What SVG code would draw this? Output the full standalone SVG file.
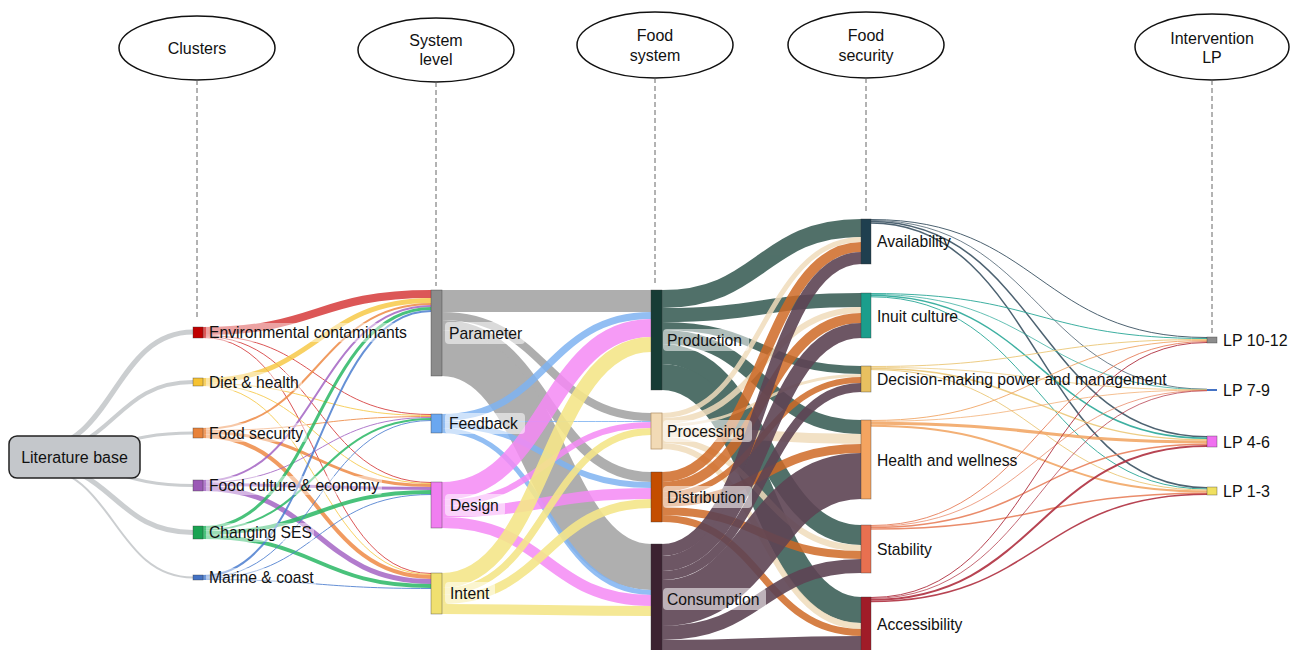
<svg xmlns="http://www.w3.org/2000/svg" width="1298" height="650" viewBox="0 0 1298 650">
<style>
text{font-family:"Liberation Sans",Arial,sans-serif;fill:#111;}
.hdr{font-size:16px;text-anchor:middle;dominant-baseline:central;}
.lbl{font-size:15.7px;dominant-baseline:central;}
.lp{font-size:16px;}
.ell{fill:#fff;stroke:#111;stroke-width:1.5;}
.dash{stroke:#666;stroke-width:1;stroke-dasharray:5 3;fill:none;}
#links path{fill:none;}
.lit{stroke:#c6c9cc;opacity:.9;}
.env{stroke:#d63a3a;opacity:.85;}
.diet{stroke:#f7c948;opacity:.85;}
.fsec{stroke:#ee8a45;opacity:.85;}
.cult{stroke:#a465c4;opacity:.85;}
.ses{stroke:#2ab865;opacity:.85;}
.mar{stroke:#4c7ed0;opacity:.85;}
.par{stroke:#a6a6a6;opacity:.9;}
.fb{stroke:#7fb3f2;opacity:.85;}
.des{stroke:#f58af5;opacity:.85;}
.int{stroke:#f5e68a;opacity:.9;}
.prod{stroke:#3e6159;opacity:.9;}
.proc{stroke:#f0dcbc;opacity:.85;}
.dist{stroke:#cf6a26;opacity:.85;}
.cons{stroke:#5e4454;opacity:.9;}
.av{stroke:#3a5262;opacity:.9;}
.inu{stroke:#2aa898;opacity:.9;}
.dec{stroke:#ecc878;opacity:.9;}
.hw{stroke:#f2a868;opacity:.9;}
.stab{stroke:#e8805c;opacity:.9;}
.acc{stroke:#b03040;opacity:.9;}
.nd{stroke:#333;stroke-width:.6;stroke-opacity:.6;}
.bg{fill:#fff;opacity:.55;}
.bgc{fill:#fff;opacity:.45;}
</style>

<g id="headers">
<g id="hdr-clusters"><ellipse class="ell" cx="197" cy="48" rx="78" ry="32"/><text class="hdr" x="197" y="48">Clusters</text><path class="dash" d="M197,80V318"/></g>
<g id="hdr-system"><ellipse class="ell" cx="436" cy="50" rx="78" ry="32"/><text class="hdr" x="436" y="40">System</text><text class="hdr" x="436" y="59">level</text><path class="dash" d="M436,82V286"/></g>
<g id="hdr-food"><ellipse class="ell" cx="655" cy="45" rx="78" ry="33"/><text class="hdr" x="655" y="35">Food</text><text class="hdr" x="655" y="55">system</text><path class="dash" d="M655,78V285"/></g>
<g id="hdr-fsec"><ellipse class="ell" cx="866" cy="45" rx="78" ry="33"/><text class="hdr" x="866" y="35">Food</text><text class="hdr" x="866" y="55">security</text><path class="dash" d="M866,78V213"/></g>
<g id="hdr-lp"><ellipse class="ell" cx="1212" cy="47" rx="77" ry="33"/><text class="hdr" x="1212" y="38">Intervention</text><text class="hdr" x="1212" y="57">LP</text><path class="dash" d="M1212,80V333"/></g>
</g>

<g id="links">
<g class="lit">
<path d="M35,449C114,449 114,332 193,332" stroke-width="5"/>
<path d="M35,453.5C114,453.5 114,382 193,382" stroke-width="4"/>
<path d="M35,457C114,457 114,433 193,433" stroke-width="3"/>
<path d="M35,460C114,460 114,485.5 193,485.5" stroke-width="3"/>
<path d="M35,464C114,464 114,532.5 193,532.5" stroke-width="5"/>
<path d="M35,467.5C114,467.5 114,577.5 193,577.5" stroke-width="2"/>
</g>
<g class="env">
<path d="M203,331C317,331 317,294 431,294" stroke-width="8"/>
<path d="M203,335.5C317,335.5 317,414.5 431,414.5" stroke-width="1"/>
<path d="M203,336.5C317,336.5 317,482.5 431,482.5" stroke-width="1"/>
<path d="M203,337.5C317,337.5 317,573.5 431,573.5" stroke-width="1"/>
</g>
<g class="diet">
<path d="M203,380.5C317,380.5 317,300.5 431,300.5" stroke-width="5"/>
<path d="M203,383.5C317,383.5 317,415.5 431,415.5" stroke-width="1"/>
<path d="M203,384.5C317,384.5 317,483.5 431,483.5" stroke-width="1"/>
<path d="M203,385.5C317,385.5 317,574.5 431,574.5" stroke-width="1"/>
</g>
<g class="fsec">
<path d="M203,429C317,429 317,304 431,304" stroke-width="2"/>
<path d="M203,430.5C317,430.5 317,416.5 431,416.5" stroke-width="1"/>
<path d="M203,432.5C317,432.5 317,485.5 431,485.5" stroke-width="3"/>
<path d="M203,436C317,436 317,577 431,577" stroke-width="4"/>
</g>
<g class="cult">
<path d="M203,481C317,481 317,306 431,306" stroke-width="2"/>
<path d="M203,482.5C317,482.5 317,417.5 431,417.5" stroke-width="1"/>
<path d="M203,484.5C317,484.5 317,488.5 431,488.5" stroke-width="3"/>
<path d="M203,488.5C317,488.5 317,581.5 431,581.5" stroke-width="5"/>
</g>
<g class="ses">
<path d="M203,527.5C317,527.5 317,308.5 431,308.5" stroke-width="3"/>
<path d="M203,530C317,530 317,419 431,419" stroke-width="2"/>
<path d="M203,533C317,533 317,492 431,492" stroke-width="4"/>
<path d="M203,537C317,537 317,586 431,586" stroke-width="4"/>
</g>
<g class="mar">
<path d="M203,576C317,576 317,311 431,311" stroke-width="2"/>
<path d="M203,577.5C317,577.5 317,420.5 431,420.5" stroke-width="1"/>
<path d="M203,578.5C317,578.5 317,494.5 431,494.5" stroke-width="1"/>
<path d="M203,579.5C317,579.5 317,588.5 431,588.5" stroke-width="1"/>
</g>

<g class="par">
<path d="M442,301C546.5,301 546.5,301 651,301" stroke-width="22"/>
<path d="M442,316C546.5,316 546.5,417 651,417" stroke-width="8"/>
<path d="M442,325C546.5,325 546.5,477 651,477" stroke-width="10"/>
<path d="M442,353C546.5,353 546.5,567 651,567" stroke-width="46"/>
</g>
<g class="fb">
<path d="M442,417.5C546.5,417.5 546.5,315.5 651,315.5" stroke-width="7"/>
<path d="M442,421.5C546.5,421.5 546.5,421.5 651,421.5" stroke-width="1"/>
<path d="M442,425C546.5,425 546.5,485 651,485" stroke-width="6"/>
<path d="M442,430.5C546.5,430.5 546.5,592.5 651,592.5" stroke-width="5"/>
</g>
<g class="des">
<path d="M442,491C546.5,491 546.5,328 651,328" stroke-width="18"/>
<path d="M442,503C546.5,503 546.5,425 651,425" stroke-width="6"/>
<path d="M442,511.5C546.5,511.5 546.5,493.5 651,493.5" stroke-width="11"/>
<path d="M442,522.5C546.5,522.5 546.5,600.5 651,600.5" stroke-width="11"/>
</g>
<g class="int">
<path d="M442,580.5C546.5,580.5 546.5,344.5 651,344.5" stroke-width="15"/>
<path d="M442,591.5C546.5,591.5 546.5,431.5 651,431.5" stroke-width="7"/>
<path d="M442,599.5C546.5,599.5 546.5,503.5 651,503.5" stroke-width="9"/>
<path d="M442,609C546.5,609 546.5,611 651,611" stroke-width="10"/>
</g>

<g class="prod">
<path d="M662,299C761.5,299 761.5,228 861,228" stroke-width="18"/>
<path d="M662,315C761.5,315 761.5,300 861,300" stroke-width="14"/>
<path d="M662,326C761.5,326 761.5,370 861,370" stroke-width="8"/>
<path d="M662,337C761.5,337 761.5,427 861,427" stroke-width="14"/>
<path d="M662,354C761.5,354 761.5,535 861,535" stroke-width="20"/>
<path d="M662,377C761.5,377 761.5,610 861,610" stroke-width="26"/>
</g>
<g class="proc">
<path d="M662,415.5C761.5,415.5 761.5,239.5 861,239.5" stroke-width="5"/>
<path d="M662,421C761.5,421 761.5,310 861,310" stroke-width="6"/>
<path d="M662,425.5C761.5,425.5 761.5,375.5 861,375.5" stroke-width="3"/>
<path d="M662,432C761.5,432 761.5,439 861,439" stroke-width="10"/>
<path d="M662,440C761.5,440 761.5,548 861,548" stroke-width="6"/>
<path d="M662,446C761.5,446 761.5,626 861,626" stroke-width="6"/>
</g>
<g class="dist">
<path d="M662,477C761.5,477 761.5,247 861,247" stroke-width="10"/>
<path d="M662,487C761.5,487 761.5,318 861,318" stroke-width="10"/>
<path d="M662,495C761.5,495 761.5,380 861,380" stroke-width="6"/>
<path d="M662,502.5C761.5,502.5 761.5,448.5 861,448.5" stroke-width="9"/>
<path d="M662,511C761.5,511 761.5,555 861,555" stroke-width="8"/>
<path d="M662,518.5C761.5,518.5 761.5,632.5 861,632.5" stroke-width="7"/>
</g>
<g class="cons">
<path d="M662,550C761.5,550 761.5,258 861,258" stroke-width="12"/>
<path d="M662,563.5C761.5,563.5 761.5,330.5 861,330.5" stroke-width="15"/>
<path d="M662,575.5C761.5,575.5 761.5,387.5 861,387.5" stroke-width="9"/>
<path d="M662,603C761.5,603 761.5,476 861,476" stroke-width="46"/>
<path d="M662,633C761.5,633 761.5,566 861,566" stroke-width="14"/>
<path d="M662,647C761.5,647 761.5,643 861,643" stroke-width="14"/>
</g>

<g class="av">
<path d="M871,219.5C1039,219.5 1039,337.5 1207,337.5" stroke-width="1"/>
<path d="M871,220.4C1039,220.4 1039,389.2 1207,389.2" stroke-width=".8"/>
<path d="M871,221.6C1039,221.6 1039,436.75 1207,436.75" stroke-width="1.5"/>
<path d="M871,223.1C1039,223.1 1039,487.75 1207,487.75" stroke-width="1.5"/>
</g>
<g class="inu">
<path d="M871,293.5C1039,293.5 1039,338.5 1207,338.5" stroke-width="1"/>
<path d="M871,294.4C1039,294.4 1039,389.5 1207,389.5" stroke-width=".8"/>
<path d="M871,295.6C1039,295.6 1039,438.25 1207,438.25" stroke-width="1.5"/>
<path d="M871,296.8C1039,296.8 1039,489 1207,489" stroke-width="1"/>
</g>
<g class="dec">
<path d="M871,366.5C1039,366.5 1039,339.5 1207,339.5" stroke-width="1"/>
<path d="M871,367.4C1039,367.4 1039,389.8 1207,389.8" stroke-width=".8"/>
<path d="M871,368.6C1039,368.6 1039,439.75 1207,439.75" stroke-width="1.5"/>
<path d="M871,369.6C1039,369.6 1039,490 1207,490" stroke-width="1"/>
</g>
<g class="hw">
<path d="M871,420.5C1039,420.5 1039,340.5 1207,340.5" stroke-width="1"/>
<path d="M871,421.4C1039,421.4 1039,390.1 1207,390.1" stroke-width=".8"/>
<path d="M871,423.2C1039,423.2 1039,442 1207,442" stroke-width="3"/>
<path d="M871,425.7C1039,425.7 1039,491.5 1207,491.5" stroke-width="2"/>
</g>
<g class="stab">
<path d="M871,525.5C1039,525.5 1039,341.5 1207,341.5" stroke-width="1"/>
<path d="M871,526.4C1039,526.4 1039,390.4 1207,390.4" stroke-width=".8"/>
<path d="M871,527.6C1039,527.6 1039,444.25 1207,444.25" stroke-width="1.5"/>
<path d="M871,529.1C1039,529.1 1039,493.25 1207,493.25" stroke-width="1.5"/>
</g>
<g class="acc">
<path d="M871,597.5C1039,597.5 1039,342.5 1207,342.5" stroke-width="1"/>
<path d="M871,598.4C1039,598.4 1039,390.7 1207,390.7" stroke-width=".8"/>
<path d="M871,599.8C1039,599.8 1039,446 1207,446" stroke-width="2"/>
<path d="M871,601.5C1039,601.5 1039,494.25 1207,494.25" stroke-width="1.5"/>
</g>
</g>

<g id="node-literature"><rect x="9" y="436" width="131" height="42" rx="8" fill="#c4c7cb" stroke="#222" stroke-width="1.5"/><text class="lbl" x="74.5" y="457" text-anchor="middle" style="font-size:16px">Literature base</text></g>

<g id="node-env"><rect class="nd" x="193" y="327" width="10" height="11" fill="#c00000"/><rect class="bgc" x="206" y="323" width="204" height="19" rx="3"/><text class="lbl" x="209" y="332.5">Environmental contaminants</text></g>
<g id="node-diet"><rect class="nd" x="193" y="378" width="10" height="8" fill="#f6c232"/><rect class="bgc" x="206" y="372" width="96" height="19" rx="3"/><text class="lbl" x="209" y="382">Diet &amp; health</text></g>
<g id="node-fsec"><rect class="nd" x="193" y="428" width="10" height="10" fill="#e8823a"/><rect class="bgc" x="206" y="423" width="101" height="19" rx="3"/><text class="lbl" x="209" y="433">Food security</text></g>
<g id="node-culture"><rect class="nd" x="193" y="480" width="10" height="11" fill="#9b59b6"/><rect class="bgc" x="206" y="476" width="176" height="19" rx="3"/><text class="lbl" x="209" y="485.5">Food culture &amp; economy</text></g>
<g id="node-ses"><rect class="nd" x="193" y="526" width="10" height="13" fill="#1aa352"/><rect class="bgc" x="206" y="523" width="108" height="19" rx="3"/><text class="lbl" x="209" y="532.5">Changing SES</text></g>
<g id="node-marine"><rect class="nd" x="193" y="575" width="10" height="5" fill="#4472c4"/><rect class="bgc" x="206" y="568" width="110" height="19" rx="3"/><text class="lbl" x="209" y="577.5">Marine &amp; coast</text></g>

<g id="node-parameter"><rect class="nd" x="431" y="290" width="11" height="86" fill="#8c8c8c"/><rect class="bg" x="445" y="322" width="80" height="22" rx="4"/><text class="lbl" x="449" y="333">Parameter</text></g>
<g id="node-feedback"><rect class="nd" x="431" y="414" width="11" height="19" fill="#6aa7f0"/><rect class="bg" x="445" y="413" width="80" height="21" rx="4"/><text class="lbl" x="449" y="423.5">Feedback</text></g>
<g id="node-design"><rect class="nd" x="431" y="482" width="11" height="46" fill="#f07ef0"/><rect class="bg" x="445" y="494" width="60" height="22" rx="4"/><text class="lbl" x="450" y="505">Design</text></g>
<g id="node-intent"><rect class="nd" x="431" y="573" width="11" height="41" fill="#f0e070"/><rect class="bg" x="445" y="582" width="50" height="22" rx="4"/><text class="lbl" x="450" y="593">Intent</text></g>

<g id="node-production"><rect class="nd" x="651" y="290" width="11" height="100" fill="#173c35"/><rect class="bg" x="663" y="329" width="86" height="22" rx="4"/><text class="lbl" x="667" y="340">Production</text></g>
<g id="node-processing"><rect x="651" y="413" width="11" height="36" fill="#f2dab5" stroke="#b89870" stroke-width=".8"/><rect class="bg" x="663" y="420" width="89" height="22" rx="4"/><text class="lbl" x="667" y="431">Processing</text></g>
<g id="node-distribution"><rect class="nd" x="651" y="472" width="11" height="50" fill="#c44d00"/><rect class="bg" x="663" y="486" width="89" height="22" rx="4"/><text class="lbl" x="667" y="497">Distribution</text></g>
<g id="node-consumption"><rect class="nd" x="651" y="544" width="11" height="110" fill="#3c2231"/><rect class="bg" x="663" y="588" width="103" height="22" rx="4"/><text class="lbl" x="667" y="599">Consumption</text></g>

<g id="node-availability"><rect class="nd" x="861" y="219" width="10" height="45" fill="#1f3f4f"/><text class="lbl" x="877" y="241">Availability</text></g>
<g id="node-inuit"><rect class="nd" x="861" y="293" width="10" height="45" fill="#1b9e8c"/><text class="lbl" x="877" y="316">Inuit culture</text></g>
<g id="node-decision"><rect class="nd" x="861" y="366" width="10" height="26" fill="#e8c060"/><text class="lbl" x="877" y="379">Decision-making power and management</text></g>
<g id="node-health"><rect class="nd" x="861" y="420" width="10" height="79" fill="#f4a460"/><text class="lbl" x="877" y="460">Health and wellness</text></g>
<g id="node-stability"><rect class="nd" x="861" y="525" width="10" height="48" fill="#e87050"/><text class="lbl" x="877" y="549">Stability</text></g>
<g id="node-accessibility"><rect class="nd" x="861" y="597" width="10" height="56" fill="#a01c28"/><text class="lbl" x="877" y="624">Accessibility</text></g>

<g id="node-lp1012"><rect class="nd" x="1207" y="337" width="10" height="6" fill="#8c8c8c"/><text class="lbl lp" x="1223" y="340">LP 10-12</text></g>
<g id="node-lp79"><rect x="1207" y="389" width="10" height="2" fill="#4472c4"/><text class="lbl lp" x="1223" y="390">LP 7-9</text></g>
<g id="node-lp46"><rect class="nd" x="1207" y="436" width="10" height="11" fill="#f070f0"/><text class="lbl lp" x="1223" y="442">LP 4-6</text></g>
<g id="node-lp13"><rect class="nd" x="1207" y="487" width="10" height="8" fill="#f0e060"/><text class="lbl lp" x="1223" y="491">LP 1-3</text></g>
</svg>
